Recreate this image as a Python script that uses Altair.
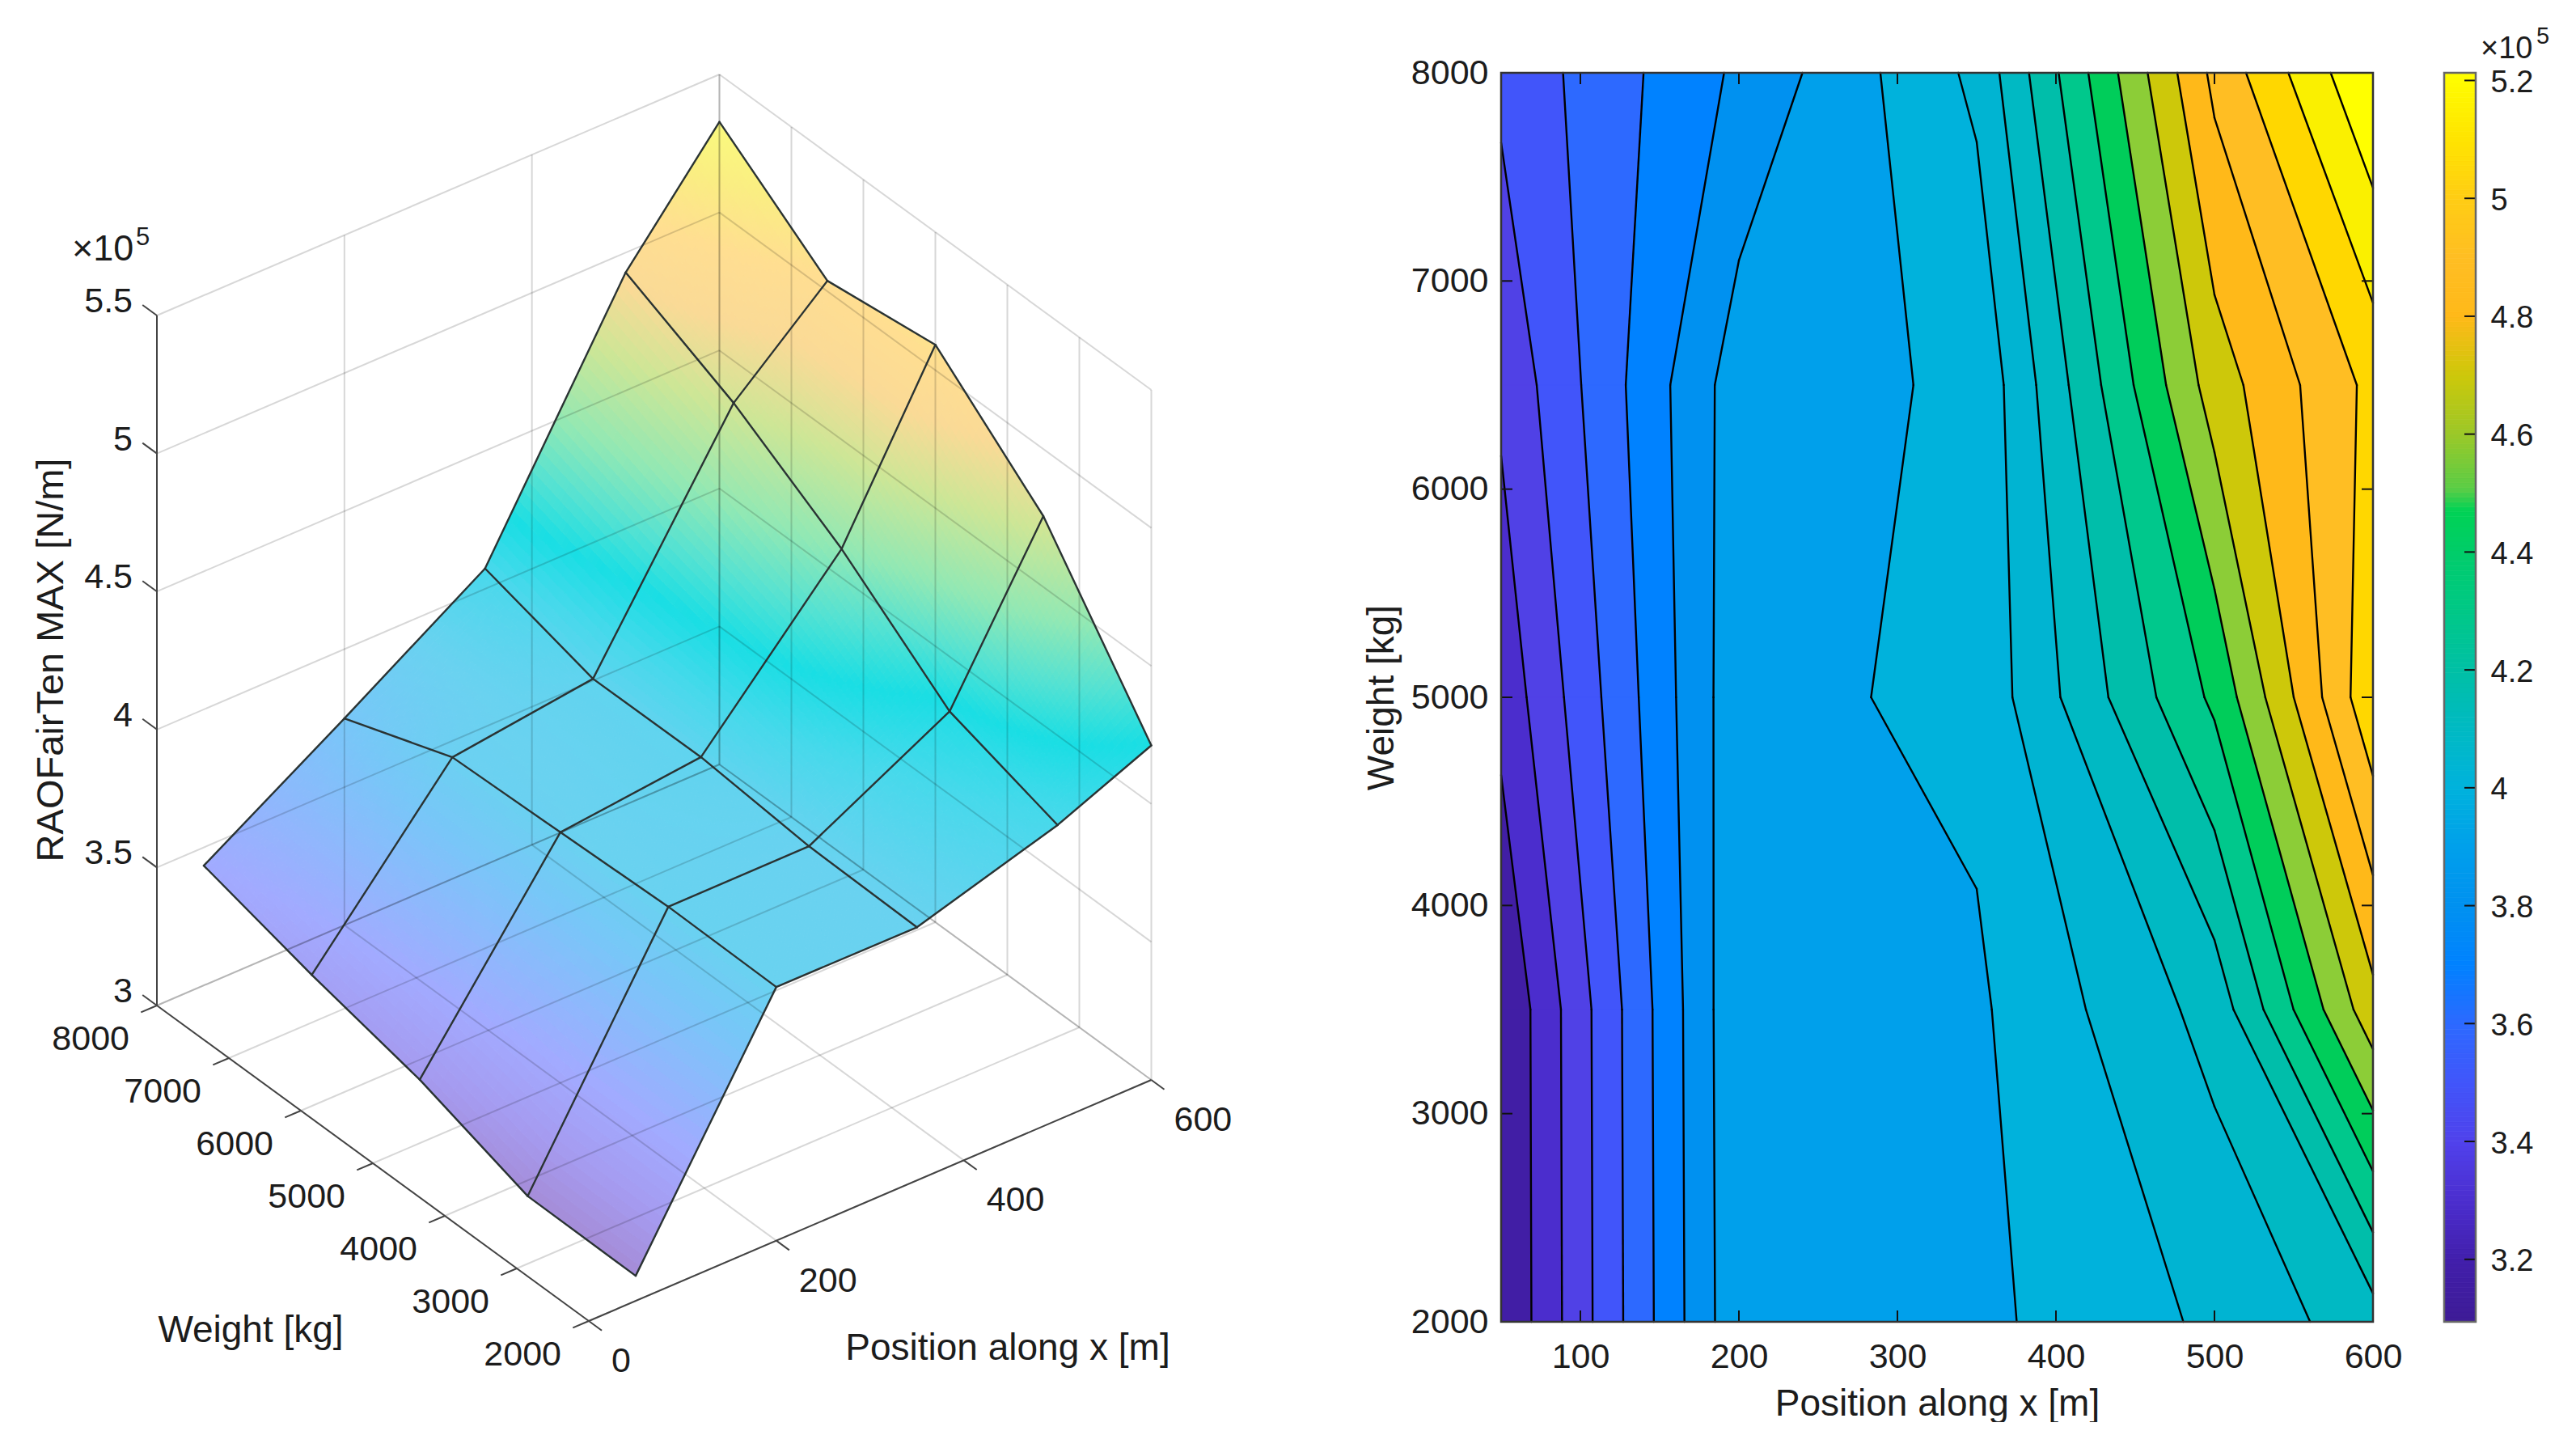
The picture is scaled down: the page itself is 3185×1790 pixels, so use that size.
import altair as alt
import numpy as np
import pandas as pd

# ---------- data ----------
POSITIONS = [50, 200, 350, 500, 600]
WEIGHTS = [2000, 3500, 5000, 6500, 8000]
# surface heights as drawn in the 3-D panel (x 1e5), row = weight, col = position
SURFACE = [
    [3.091, 3.919, 3.917, 4.069, 4.212],
    [3.094, 3.924, 3.925, 4.195, 4.757],
    [3.230, 3.908, 3.962, 4.498, 5.092],
    [3.324, 3.894, 3.960, 4.741, 5.038],
    [3.434, 3.749, 4.074, 4.928, 5.328],
]
# values as drawn in the contour panel
CONTOUR = [
    [3.095, 3.879, 3.877, 4.021, 4.157],
    [3.098, 3.884, 3.885, 4.140, 4.673],
    [3.227, 3.869, 3.927, 4.427, 4.990],
    [3.316, 3.855, 3.918, 4.657, 4.939],
    [3.420, 3.718, 4.026, 4.835, 5.213],
]
ZMIN, ZMAX = 3.094, 5.213
N_LEVELS = 20
COLORBAR_TICKS = [3.2, 3.4, 3.6, 3.8, 4.0, 4.2, 4.4, 4.6, 4.8, 5.0, 5.2]
X_TICKS_2D = [100, 200, 300, 400, 500, 600]
Y_TICKS_2D = [2000, 3000, 4000, 5000, 6000, 7000, 8000]
X_TICKS_3D = [0, 200, 400, 600]
W_TICKS_3D = [2000, 3000, 4000, 5000, 6000, 7000, 8000]
Z_TICKS_3D = [3, 3.5, 4, 4.5, 5, 5.5]

# fill colour of each contour band, lowest first
BAND_COLORS = ["#411ea5", "#4b2dcd", "#5041e6", "#4155fa", "#2d69ff", "#0082ff", "#0091f0", "#00a0eb",
               "#00b2dc", "#00b4d2", "#00b9c3", "#00beaa", "#00c88c", "#00cd5a", "#8ccd37", "#cdc80a",
               "#ffb919", "#ffbe23", "#ffd700", "#faf000", "#ffff00"]
RAMP_V = [3.094, 3.195, 3.296, 3.397, 3.498, 3.599, 3.70, 3.80, 3.90, 4.0, 4.1, 4.2, 4.3, 4.4, 4.47, 4.507,
          4.6, 4.7, 4.8, 4.9, 5.0, 5.1, 5.213]
RAMP_C = ["#3e1c96", "#411eaa", "#4b2dcd", "#5041eb", "#4155fa", "#2d69ff", "#0082ff", "#0091f0", "#00a0eb",
          "#00b2dc", "#00bac3", "#00c0a5", "#00c887", "#00cd69", "#00d255", "#5acd46",
          "#9bc828", "#cdc80a", "#ffb919", "#ffbe23", "#ffcd14", "#ffe400", "#ffff00"]
SURF_V = [3.09, 3.25, 3.43, 3.6, 3.75, 3.92, 4.08, 4.22, 4.35, 4.5, 4.72, 4.9, 5.05, 5.2, 5.33]
SURF_C = ["#a58cd7", "#a59bf0", "#a2aaff", "#8cb9fc", "#78c6f8", "#69d2f0", "#46d9eb", "#19dee4", "#55e2d2",
          "#91e8b4", "#cde696", "#fada96", "#ffde91", "#faee82", "#fafa7d"]

FONT = "Liberation Sans"
INK = "#1c1c1c"

# ---------- layout (page pixels) ----------
OX, OY = 8, 88
SPACING = 88
WL, HL = 1856 - OX - SPACING, 1544
W2, H2 = 1078, 1544
CBW = 39


def project(x, w, z):
    """Oblique view used by the 3-D panel, in panel pixels."""
    px = 728 + 695.5 / 600 * x - 534 / 6000 * (w - 2000) - OX
    py = 1631 - 298 / 600 * x - 390 / 6000 * (w - 2000) - 341.2 * (z - 3) - OY
    return px, py


xs = alt.Scale(domain=[0, WL], range=[0, WL], nice=False, zero=False)
ys = alt.Scale(domain=[HL, 0], range=[HL, 0], nice=False, zero=False)
IDENT = dict(type="identity", scale=1, translate=[0, 0])


def collection(features):
    return alt.InlineData(values={"type": "FeatureCollection", "features": features},
                          format=alt.DataFormat(type="json", property="features"))


def poly(pts, val):
    ring = [[round(float(a), 2), round(float(b), 2)] for a, b in pts]
    ring.append(ring[0])
    return {"type": "Feature", "properties": {"v": round(float(val), 4)},
            "geometry": {"type": "Polygon", "coordinates": [ring]}}


def segs(rows, **kw):
    df = pd.DataFrame(rows, columns=["x", "y", "x2", "y2"])
    return alt.Chart(df).mark_rule(**kw).encode(
        x=alt.X("x:Q", scale=xs, axis=None), y=alt.Y("y:Q", scale=ys, axis=None),
        x2=alt.X2("x2"), y2=alt.Y2("y2"))


def labels(rows, size, align="center", angle=0, baseline="middle"):
    df = pd.DataFrame(rows, columns=["x", "y", "t"])
    return alt.Chart(df).mark_text(font=FONT, fontSize=size, align=align, baseline=baseline, angle=angle,
                                   color=INK).encode(
        x=alt.X("x:Q", scale=xs, axis=None), y=alt.Y("y:Q", scale=ys, axis=None), text="t:N")


def seg3(a, b):
    p, q = project(*a), project(*b)
    return [p[0], p[1], q[0], q[1]]


# ---------- left panel: surface ----------
S = np.array(SURFACE)
SUB = 30
surf_feats = []
for j in range(4):
    for i in range(4):
        for a in range(SUB):
            for b in range(SUB):
                corners = []
                for (u, v) in [(a, b), (a + 1, b), (a + 1, b + 1), (a, b + 1)]:
                    u_, v_ = u / SUB, v / SUB
                    x = POSITIONS[i] * (1 - u_) + POSITIONS[i + 1] * u_
                    w = WEIGHTS[j] * (1 - v_) + WEIGHTS[j + 1] * v_
                    z = (S[j, i] * (1 - u_) * (1 - v_) + S[j, i + 1] * u_ * (1 - v_)
                         + S[j + 1, i] * (1 - u_) * v_ + S[j + 1, i + 1] * u_ * v_)
                    corners.append((x, w, z))
                mean_z = np.mean([c[2] for c in corners])
                surf_feats.append(poly([project(*c) for c in corners], mean_z))

surf_color = alt.Scale(domain=SURF_V, range=SURF_C, interpolate="rgb")
surface = alt.Chart(collection(surf_feats)).mark_geoshape(strokeWidth=1).encode(
    color=alt.Color("properties.v:Q", scale=surf_color, legend=None),
    stroke=alt.Stroke("properties.v:Q", scale=surf_color, legend=None),
).project(**IDENT)

grid = []
for x in [200, 400, 600]:
    grid.append(seg3((x, 2000, 3), (x, 8000, 3)))
    grid.append(seg3((x, 8000, 3), (x, 8000, 5.5)))
for w in W_TICKS_3D:
    grid.append(seg3((0, w, 3), (600, w, 3)))
    grid.append(seg3((600, w, 3), (600, w, 5.5)))
for z in Z_TICKS_3D:
    grid.append(seg3((0, 8000, z), (600, 8000, z)))
    grid.append(seg3((600, 8000, z), (600, 2000, z)))
grid_layer = segs(grid, color="#000000", opacity=0.157, strokeWidth=2)

mesh = []
for j in range(5):
    for i in range(5):
        if i < 4:
            mesh.append(seg3((POSITIONS[i], WEIGHTS[j], S[j, i]), (POSITIONS[i + 1], WEIGHTS[j], S[j, i + 1])))
        if j < 4:
            mesh.append(seg3((POSITIONS[i], WEIGHTS[j], S[j, i]), (POSITIONS[i], WEIGHTS[j + 1], S[j + 1, i])))
mesh_layer = segs(mesh, color="#2a3333", strokeWidth=2.4, strokeCap="round")

axes3 = [seg3((0, 2000, 3), (600, 2000, 3)), seg3((0, 2000, 3), (0, 8000, 3)), seg3((0, 8000, 3), (0, 8000, 5.5))]
for x in X_TICKS_3D:
    axes3.append(seg3((x, 2000, 3), (x, 1820, 3)))
for w in W_TICKS_3D:
    axes3.append(seg3((0, w, 3), (-17, w, 3)))
for z in Z_TICKS_3D:
    axes3.append(seg3((0, 8000, z), (0, 8200, z)))
axes_layer = segs(axes3, color="#444444", strokeWidth=2)

lab_z = [(project(0, 8000, z)[0] - 30, project(0, 8000, z)[1] - 17, f"{z:g}") for z in Z_TICKS_3D]
lab_w = [(project(0, w, 3)[0] - 34, project(0, w, 3)[1] + 42, str(w)) for w in W_TICKS_3D]
lab_x = [(project(x, 2000, 3)[0] + 28, project(x, 2000, 3)[1] + 50, str(x)) for x in X_TICKS_3D]

left = alt.layer(
    surface, grid_layer, mesh_layer, axes_layer,
    labels(lab_z, 43, "right"),
    labels(lab_w, 43, "right"),
    labels(lab_x, 43, "left"),
    labels([(310 - OX, 1643 - OY, "Weight [kg]")], 46),
    labels([(1246 - OX, 1665 - OY, "Position along x [m]")], 46),
    labels([(64 - OX, 814 - OY, "RAOFairTen MAX [N/m]")], 47, angle=270),
    labels([(89 - OX, 320 - OY, "×10")], 45, "left", baseline="alphabetic"),
    labels([(168 - OX, 301 - OY, "5")], 31, "left", baseline="alphabetic"),
).properties(width=WL, height=HL)

# ---------- right panel: filled contours ----------
C = np.array(CONTOUR)
step = (ZMAX - ZMIN) / (N_LEVELS + 1)
LEVELS = [ZMIN + step * (k + 1) for k in range(N_LEVELS)]
BOUNDS = [ZMIN - 0.01] + LEVELS + [ZMAX + 0.01]


def clip(points, level, keep_above):
    out = []
    n = len(points)
    for k in range(n):
        p, q = points[k], points[(k + 1) % n]
        p_in = p[2] >= level if keep_above else p[2] <= level
        q_in = q[2] >= level if keep_above else q[2] <= level
        if p_in:
            out.append(p)
        if p_in != q_in:
            t = (level - p[2]) / (q[2] - p[2])
            out.append((p[0] + t * (q[0] - p[0]), p[1] + t * (q[1] - p[1]), level))
    return out


def to_px(x, w):
    return (x - 50) / 550 * W2, (8000 - w) / 6000 * H2


cont_feats, cont_lines = [], []
for j in range(4):
    for i in range(4):
        cell = [(POSITIONS[i], WEIGHTS[j], C[j, i]), (POSITIONS[i + 1], WEIGHTS[j], C[j, i + 1]),
                (POSITIONS[i + 1], WEIGHTS[j + 1], C[j + 1, i + 1]), (POSITIONS[i], WEIGHTS[j + 1], C[j + 1, i])]
        for k in range(len(BOUNDS) - 1):
            band = clip(cell, BOUNDS[k], True)
            if len(band) >= 3:
                band = clip(band, BOUNDS[k + 1], False)
            if len(band) >= 3:
                cont_feats.append(poly([to_px(p[0], p[1]) for p in band], k))
        for lev in LEVELS:
            hits = []
            for k in range(4):
                p, q = cell[k], cell[(k + 1) % 4]
                if (p[2] - lev) * (q[2] - lev) < 0:
                    t = (lev - p[2]) / (q[2] - p[2])
                    hits.append((p[0] + t * (q[0] - p[0]), p[1] + t * (q[1] - p[1])))
            if len(hits) == 2:
                cont_lines.append([hits[0][0], hits[0][1], hits[1][0], hits[1][1]])

cmap = alt.Scale(domain=RAMP_V, range=RAMP_C, interpolate="rgb")
band_scale = alt.Scale(domain=list(range(len(BAND_COLORS))), range=BAND_COLORS, interpolate="rgb")
x2s = alt.Scale(domain=[50, 600], nice=False, zero=False)
y2s = alt.Scale(domain=[2000, 8000], nice=False, zero=False)
fills = alt.Chart(collection(cont_feats)).mark_geoshape(strokeWidth=1).encode(
    color=alt.Color("properties.v:Q", scale=band_scale, legend=None),
    stroke=alt.Stroke("properties.v:Q", scale=band_scale, legend=None),
).project(**IDENT)

axis_common = dict(tickSize=0, domain=False, grid=False, labelFont=FONT, labelFontSize=43, labelColor=INK,
                   titleFont=FONT, titleFontSize=46, titleFontWeight="normal", titleColor=INK,
                   labelOverlap=False, labelFlush=False, labelBound=False, format="d")
ax_x = alt.Axis(values=X_TICKS_2D, title="Position along x [m]", labelPadding=22, titlePadding=14, **axis_common)
ax_y = alt.Axis(values=Y_TICKS_2D, title="Weight [kg]", labelPadding=16, titlePadding=12, **axis_common)

lines_df = pd.DataFrame(cont_lines, columns=["x", "y", "x2", "y2"])
lines = alt.Chart(lines_df).mark_rule(color="#000000", strokeWidth=2.4, strokeCap="round").encode(
    x=alt.X("x:Q", scale=x2s, axis=ax_x),
    y=alt.Y("y:Q", scale=y2s, axis=ax_y),
    x2=alt.X2("x2"), y2=alt.Y2("y2"))

tx = pd.DataFrame({"v": X_TICKS_2D})
ty = pd.DataFrame({"v": Y_TICKS_2D})
tick_style = dict(color="#111111", strokeWidth=2)
ticks_x = [
    alt.Chart(tx).mark_rule(**tick_style).encode(x=alt.X("v:Q", scale=x2s, axis=ax_x), y=alt.value(a), y2=alt.value(b))
    for a, b in [(H2, H2 - 14), (0, 14)]
]
ticks_y = [
    alt.Chart(ty).mark_rule(**tick_style).encode(y=alt.Y("v:Q", scale=y2s, axis=ax_y), x=alt.value(a), x2=alt.value(b))
    for a, b in [(0, 14), (W2, W2 - 14)]
]
frame = alt.Chart(pd.DataFrame({"a": [50], "b": [600], "c": [2000], "d": [8000]})).mark_rect(
    filled=False, stroke="#333333", strokeWidth=2.5).encode(
    x=alt.X("a:Q", scale=x2s, axis=ax_x), x2="b:Q", y=alt.Y("c:Q", scale=y2s, axis=ax_y), y2="d:Q")

right = alt.layer(fills, lines, *ticks_x, *ticks_y, frame).properties(width=W2, height=H2)

# ---------- colour bar ----------
edges = np.linspace(ZMIN, ZMAX, 257)
cb_df = pd.DataFrame({"lo": edges[:-1], "hi": edges[1:], "mid": (edges[:-1] + edges[1:]) / 2})
cbs = alt.Scale(domain=[ZMIN, ZMAX], nice=False, zero=False)
ax_cb = alt.Axis(orient="right", values=COLORBAR_TICKS, title=None, tickSize=0, domain=False, grid=False,
                 labelFont=FONT, labelFontSize=38, labelColor=INK, labelPadding=18, labelOffset=3,
                 labelOverlap=False, labelFlush=False, labelBound=False,
                 labelExpr="format(datum.value, '~g')")
cb_rect = alt.Chart(cb_df).mark_rect(strokeWidth=0.8).encode(
    x=alt.value(0), x2=alt.value(CBW),
    y=alt.Y("lo:Q", scale=cbs, axis=ax_cb),
    y2="hi:Q",
    color=alt.Color("mid:Q", scale=cmap, legend=None),
    stroke=alt.Stroke("mid:Q", scale=cmap, legend=None),
)
cb_ticks = alt.Chart(pd.DataFrame({"v": COLORBAR_TICKS})).mark_rule(**tick_style).encode(
    y=alt.Y("v:Q", scale=cbs, axis=ax_cb), x=alt.value(CBW), x2=alt.value(CBW - 14))
cb_frame = alt.Chart(pd.DataFrame({"a": [ZMIN], "b": [ZMAX]})).mark_rect(
    filled=False, stroke="#666666", strokeWidth=2.5).encode(
    x=alt.value(0), x2=alt.value(CBW), y=alt.Y("a:Q", scale=cbs, axis=ax_cb), y2="b:Q")
cb_t1 = alt.Chart(pd.DataFrame({"t": ["×10"]})).mark_text(
    font=FONT, fontSize=38, align="left", baseline="alphabetic", color=INK).encode(
    x=alt.value(3067 - 3022), y=alt.value(70 - 88), text="t:N")
cb_t2 = alt.Chart(pd.DataFrame({"t": ["5"]})).mark_text(
    font=FONT, fontSize=29, align="left", baseline="alphabetic", color=INK).encode(
    x=alt.value(3136 - 3022), y=alt.value(52 - 88), text="t:N")
colorbar = alt.layer(cb_rect, cb_ticks, cb_frame, cb_t1, cb_t2).properties(width=CBW, height=H2)

chart = alt.hconcat(left, right, colorbar, spacing=SPACING, bounds="flush").properties(
    padding={"left": 0, "top": 23, "right": 0, "bottom": 0}
).resolve_scale(color="independent", stroke="independent").configure_view(stroke=None)

chart.save("out.html", embed_options={"renderer": "svg", "actions": False})
